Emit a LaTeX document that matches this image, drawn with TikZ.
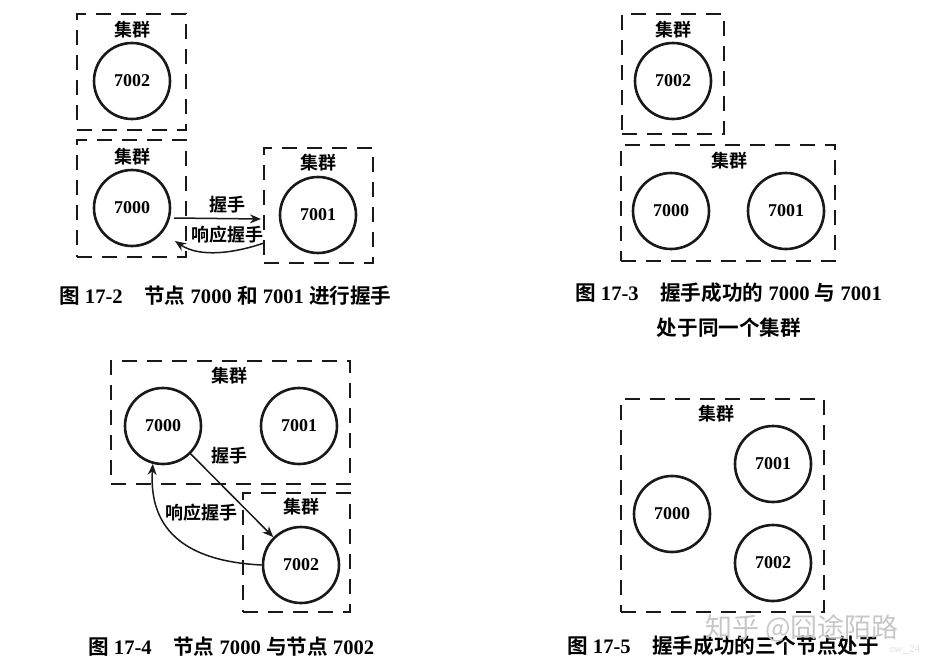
\documentclass[tikz,border=0pt]{standalone}
\usepackage{fontspec}
\setmainfont{Liberation Serif}
\newfontfamily\cjk{Noto Sans CJK SC}[BoldFont={Noto Sans CJK SC Bold}]
\usetikzlibrary{arrows.meta}
\tikzset{
  box/.style={draw=black!90,line width=2.4pt,dash pattern=on 15pt off 10pt,inner sep=0pt,rectangle},
  peer/.style={circle,draw=black!90,line width=2.6pt,minimum size=76pt,inner sep=0pt,font=\fontsize{18}{18}\selectfont\bfseries},
  lbl/.style={font=\fontsize{18}{18}\selectfont\cjk\bfseries,inner sep=0pt,fill=none},
  captext/.style={font=\fontsize{20.6}{21}\selectfont\bfseries,inner sep=0pt,anchor=west},
  captextb/.style={font=\fontsize{20.6}{21}\selectfont\bfseries,inner sep=0pt},
  link/.style={draw=black!90,line width=1.5pt,-{Stealth[length=11pt,width=9pt]}},
  marktext/.style={text=black!22,inner sep=0pt}
}
\newcommand{\zh}[1]{{\cjk #1}}
\begin{document}
\begin{tikzpicture}[x=1pt,y=-1pt]
\useasboundingbox (0,0) rectangle (925,667);
% Figure 17-2
\node[box,minimum width=109pt,minimum height=116pt] (b2a) at (131.5,72) {};
\node[box,minimum width=109pt,minimum height=117pt] (b2b) at (131.5,198.5) {};
\node[box,minimum width=109pt,minimum height=115pt] (b2c) at (318.5,205.5) {};
\node[lbl] (l2a) at (132,30) {集群};
\node[lbl] (l2b) at (132,157) {集群};
\node[lbl] (l2c) at (318,163) {集群};
\node[peer] (n2a) at (132,81) {7002};
\node[peer] (n2b) at (132,208) {7000};
\node[peer] (n2c) at (318,215) {7001};
\coordinate (a2s) at (174,218);
\coordinate (a2e) at (261,219);
\coordinate (r2s) at (264,243);
\coordinate (r2e) at (175,241);
\draw[link] (a2s) -- (a2e);
\draw[link] (r2s) .. controls (235,253) and (200,258) .. (r2e);
\node[lbl] (h2) at (227,205) {握手};
\node[lbl] (x2) at (227,235) {响应握手};
\node[captext] (c2) at (59,296) {\zh{图} 17-2\hspace{1.05em}\zh{节点} 7000 \zh{和} 7001 \zh{进行握手}};
% Figure 17-3
\node[box,minimum width=102pt,minimum height=120pt] (b3a) at (673,74) {};
\node[box,minimum width=214pt,minimum height=116pt] (b3b) at (728,203) {};
\node[lbl] (l3a) at (673,30) {集群};
\node[lbl] (l3b) at (729,161) {集群};
\node[peer] (n3a) at (673,81) {7002};
\node[peer] (n3b) at (671,211) {7000};
\node[peer] (n3c) at (786,211) {7001};
\node[captext] (c3) at (575,293) {\zh{图} 17-3\hspace{1.05em}\zh{握手成功的} 7000 \zh{与} 7001};
\node[captextb] (c3b) at (729,328) {\zh{处于同一个集群}};
% Figure 17-4
\node[box,minimum width=239pt,minimum height=123pt] (b4a) at (230.5,422.5) {};
\node[box,minimum width=107pt,minimum height=119pt] (b4b) at (296.5,552.5) {};
\node[lbl] (l4a) at (229,376) {集群};
\node[lbl] (l4b) at (301,507) {集群};
\node[peer] (n4a) at (163,426) {7000};
\node[peer] (n4b) at (299,426) {7001};
\node[peer] (n4c) at (301,565) {7002};
\draw[link] (n4a) -- (n4c);
\draw[link] (n4c.west) .. controls (200,562) and (148,540) .. (n4a.255);
\node[lbl] (h4) at (229,456) {握手};
\node[lbl] (x4) at (201,513) {响应握手};
\node[captext] (c4) at (88,647) {\zh{图} 17-4\hspace{1.05em}\zh{节点} 7000 \zh{与节点} 7002};
% Figure 17-5
\node[box,minimum width=203pt,minimum height=213pt] (b5) at (722.5,505.5) {};
\node[lbl] (l5) at (716,414) {集群};
\node[peer] (n5a) at (773,464) {7001};
\node[peer] (n5b) at (672,514) {7000};
\node[peer] (n5c) at (773,563) {7002};
\node[captext] (c5) at (567,646) {\zh{图} 17-5\hspace{1.05em}\zh{握手成功的三个节点处于}};
% Watermark
\node[marktext,font=\fontsize{27}{27}\selectfont\cjk] (w1) at (802,628) {知乎 @囧途陌路};
\node[marktext,text=black!12,font=\fontsize{11}{11}\selectfont\sffamily] (w2) at (905,650) {ow\_24};
\end{tikzpicture}
\end{document}
